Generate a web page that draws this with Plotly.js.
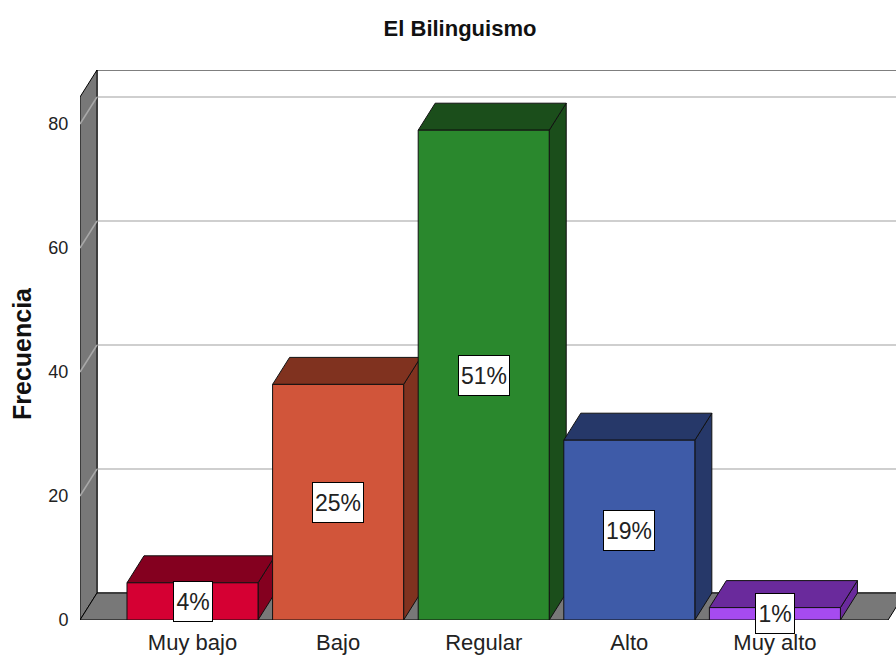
<!DOCTYPE html>
<html>
<head>
<meta charset="utf-8">
<script src="https://cdn.plot.ly/plotly-3.0.1.min.js"></script>
<style>html,body{margin:0;padding:0;background:#fff;}#chart{width:896px;height:658px;}</style>
</head>
<body>
<div id="chart"></div>
<script>
// ---- data ----
const categories = ["Muy bajo", "Bajo", "Regular", "Alto", "Muy alto"];
const frequencies = [6, 38, 79, 29, 2];
const yTickValues = [0, 20, 40, 60, 80];
const chartTitle = "El Bilinguismo";
const yTitle = "Frecuencia";

// ---- styling ----
const frontColors = ["#d50033", "#d1553a", "#2a882d", "#3e5ba8", "#a64bf0"];
const darkColors  = ["#84001f", "#80321f", "#1b4e1b", "#263869", "#6a2a9c"];
const NARROW = "Liberation Sans Narrow, Arial Narrow, Liberation Sans, Arial, sans-serif";
const SANS = "Liberation Sans, Arial, sans-serif";

const BAR_W = 0.9;
const DX = 17 / 145.6;    // depth offset in x units
const DY = 27 / 6.2;      // depth offset in y units
const X0 = -0.7727;       // front-left wall position
const XR = 4.777;         // front-right end of floor
const YMAX = 550 / 6.2;

const total = frequencies.reduce((a, b) => a + b, 0);
const pct = frequencies.map(v => Math.round(v / total * 100) + "%");

const shapes = [];
function poly(pts, fill, lineColor, lineWidth) {
  const path = "M" + pts.map(p => p[0] + "," + p[1]).join(" L") + " Z";
  shapes.push({type: "path", xref: "x", yref: "y", path: path, fillcolor: fill,
    line: {color: lineColor, width: lineWidth}, layer: "below"});
}
function seg(x0, y0, x1, y1, color, width) {
  shapes.push({type: "line", xref: "x", yref: "y", x0: x0, y0: y0, x1: x1, y1: y1,
    line: {color: color, width: width}, layer: "below"});
}

// back wall
poly([[X0 + DX, DY], [XR + DX, DY], [XR + DX, YMAX], [X0 + DX, YMAX]], "#ffffff", "#000000", 1);
// gridlines on back wall
yTickValues.slice(1).forEach(v => {
  seg(X0 + DX, v + DY, XR + DX, v + DY, "#cfcfcf", 2);
});
// left wall
poly([[X0, 0], [X0, YMAX - DY], [X0 + DX, YMAX], [X0 + DX, DY]], "#787878", "#000000", 1);
yTickValues.slice(1).forEach(v => {
  seg(X0, v, X0 + DX, v + DY, "#a8a8a8", 1.5);
});
// floor
poly([[X0, 0], [XR, 0], [XR + DX, DY], [X0 + DX, DY]], "#787878", "#000000", 1);

// bar sides and tops (depth faces)
frequencies.forEach((v, i) => {
  const L = i - BAR_W / 2, R = i + BAR_W / 2;
  poly([[R, 0], [R, v], [R + DX, v + DY], [R + DX, DY]], darkColors[i], "#111111", 1);
  poly([[L, v], [L + DX, v + DY], [R + DX, v + DY], [R, v]], darkColors[i], "#111111", 1);
});

const traces = [{
  type: "bar",
  x: categories,
  y: frequencies,
  width: BAR_W,
  marker: {color: frontColors, line: {color: "#111111", width: 1}},
  hoverinfo: "skip"
}];

const annotations = frequencies.map((v, i) => ({
  x: i, y: v / 2, xref: "x", yref: "y",
  text: pct[i], showarrow: false,
  width: pct[i].length > 2 ? 48 : 36, height: 37,
  bgcolor: "#ffffff", bordercolor: "#000000", borderwidth: 1, borderpad: 1,
  font: {family: NARROW, size: 23, color: "#222222"}
}));
annotations.push({
  xref: "paper", yref: "paper", x: (22 - 80) / 816, y: (620 - 354) / 550,
  text: yTitle, textangle: -90, showarrow: false,
  xanchor: "center", yanchor: "middle",
  font: {family: SANS, size: 25, weight: "bold", color: "#111111"}
});

const layout = {
  width: 896, height: 658,
  margin: {l: 80, r: 0, t: 70, b: 38},
  paper_bgcolor: "#ffffff", plot_bgcolor: "#ffffff",
  showlegend: false,
  title: {text: chartTitle, x: 460 / 896, xref: "container", xanchor: "center",
    y: 1 - 28 / 658, yref: "container", yanchor: "middle",
    font: {family: SANS, size: 22, weight: "bold", color: "#111111"}},
  xaxis: {type: "category", range: [X0, X0 + 816 / 145.6], showgrid: false, zeroline: false,
    showline: false, ticks: "outside", ticklen: 3, tickcolor: "rgba(0,0,0,0)",
    tickfont: {family: NARROW, size: 22, color: "#222222"}, fixedrange: true},
  yaxis: {range: [0, YMAX], showgrid: false, zeroline: false, showline: false,
    tickvals: yTickValues, ticks: "outside", ticklen: 7, tickcolor: "rgba(0,0,0,0)",
    tickfont: {family: NARROW, size: 18, color: "#222222"}, fixedrange: true},
  shapes: shapes,
  annotations: annotations
};

Plotly.newPlot("chart", traces, layout, {displayModeBar: false, staticPlot: true});
</script>
</body>
</html>
